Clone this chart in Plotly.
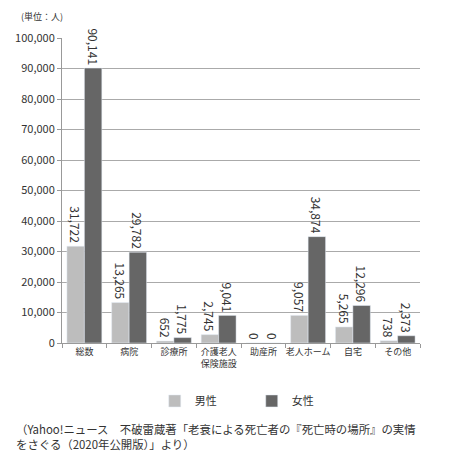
import plotly.graph_objects as go

categories = ["総数", "病院", "診療所", "介護老人<br>保険施設", "助産所", "老人ホーム", "自宅", "その他"]
male = [31722, 13265, 652, 2745, 0, 9057, 5265, 738]
female = [90141, 29782, 1775, 9041, 0, 34874, 12296, 2373]
y_ticks = list(range(0, 100001, 10000))

FONT = "Noto Sans CJK JP"

fig = go.Figure()
fig.add_trace(go.Bar(
    x=categories, y=male, name="男性",
    marker=dict(color="#bdbdbd"),
    text=[f"{v:,}" for v in male], textposition="outside",
    textangle=90, textfont=dict(size=12, color="#333333"),
    cliponaxis=False,
))
fig.add_trace(go.Bar(
    x=categories, y=female, name="女性",
    marker=dict(color="#666666"),
    text=[f"{v:,}" for v in female], textposition="outside",
    textangle=90, textfont=dict(size=12, color="#333333"),
    cliponaxis=False,
))

# page body adds an 8px margin, so the figure is a bit smaller than the window
fig.update_layout(
    width=442, height=463,
    barmode="group", bargap=0.22, bargroupgap=0,
    plot_bgcolor="white", paper_bgcolor="white",
    font=dict(family=FONT, size=10, color="#333333"),
    margin=dict(l=54, r=30, t=30, b=128, autoexpand=False),
    uniformtext=dict(minsize=12, mode="show"),
    xaxis=dict(
        showline=True, linecolor="#999999", linewidth=1,
        ticks="outside", tickson="boundaries", ticklen=4, tickcolor="#999999",
        tickangle=0, tickfont=dict(size=9),
    ),
    yaxis=dict(
        range=[0, 100000], tickvals=y_ticks, tickformat=",d",
        showline=True, linecolor="#999999", linewidth=1,
        ticks="outside", ticklen=4, tickcolor="#999999",
        showgrid=True, gridcolor="#aaaaaa", gridwidth=1,
        zeroline=False, tickfont=dict(size=11),
    ),
    legend=dict(
        orientation="h", x=0.53, xanchor="center", y=-0.19, yanchor="middle",
        font=dict(size=11), entrywidth=52, itemwidth=30,
    ),
    showlegend=True,
)

fig.add_annotation(
    text="(単位：人)", xref="paper", yref="paper", x=-0.12, y=1.07,
    xanchor="left", yanchor="middle", showarrow=False, font=dict(size=9),
)
fig.add_annotation(
    text="（Yahoo!ニュース　不破雷蔵著「老衰による死亡者の『死亡時の場所』の実情<br>をさぐる（2020年公開版）」より）",
    xref="paper", yref="paper", x=-0.135, y=-0.25,
    xanchor="left", yanchor="top", align="left", showarrow=False,
    font=dict(size=11.4),
)

fig.write_html("out.html")
